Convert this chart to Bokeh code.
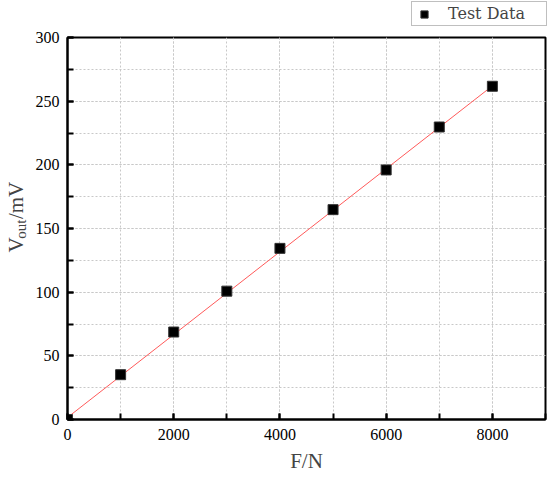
import math
from bokeh.plotting import figure
from bokeh.layouts import column, row
from bokeh.models import Range1d, SingleIntervalTicker, Legend, LegendItem, Label
from bokeh.embed import file_html
from bokeh.resources import INLINE

# Data
force_n = [0, 1000, 2000, 3000, 4000, 5000, 6000, 7000, 8000]
vout_mv = [0, 35.2, 68.7, 100.8, 134.4, 164.8, 196.0, 229.7, 261.7]
fit_x = [0, 8000]
fit_y = [1.6, 262.0]
series_name = "Test Data"

FONT = "Liberation Serif"

# ---------- main chart ----------
p = figure(width=516, height=448, output_backend="svg", toolbar_location=None,
           x_range=Range1d(0, 9000), y_range=Range1d(0, 300),
           min_border_left=33, min_border_right=3, min_border_top=10, min_border_bottom=54)

p.outline_line_color = "black"
p.outline_line_width = 2

fit = p.line(fit_x, fit_y, line_color="#ff5a5a", line_width=1)
pts = p.scatter(force_n, vout_mv, marker="square", size=10, fill_color="black", line_color="#333333")

p.xaxis.ticker = SingleIntervalTicker(interval=2000, num_minor_ticks=2)
p.yaxis.ticker = SingleIntervalTicker(interval=50, num_minor_ticks=2)

for ax in (p.xaxis, p.yaxis):
    ax.axis_line_width = 2
    ax.axis_line_color = "black"
    ax.major_tick_in = 6
    ax.major_tick_out = 0
    ax.minor_tick_in = 6
    ax.minor_tick_out = 0
    ax.major_tick_line_width = 2
    ax.minor_tick_line_width = 2
    ax.major_label_text_font = FONT
    ax.major_label_text_font_size = "16px"
    ax.major_label_text_color = "black"
    ax.axis_label_text_font = FONT
    ax.axis_label_text_font_size = "21px"
    ax.axis_label_text_font_style = "normal"

p.xaxis.axis_label = "F/N"
p.xaxis.major_label_standoff = 9
p.xaxis.axis_label_standoff = 6
p.yaxis.major_label_standoff = 8

for g in (p.xgrid, p.ygrid):
    g.grid_line_color = "#c8c8c8"
    g.grid_line_dash = "2 2"
    g.grid_line_width = 1
    g.minor_grid_line_color = "#c8c8c8"
    g.minor_grid_line_dash = "2 2"
    g.minor_grid_line_width = 1

# ---------- y-axis title strip (with subscript) ----------
ylab = figure(width=32, height=448, output_backend="svg", toolbar_location=None,
              x_range=Range1d(0, 32), y_range=Range1d(0, 448),
              x_axis_location=None, y_axis_location=None,
              min_border_left=0, min_border_right=0, min_border_top=0, min_border_bottom=0)
ylab.outline_line_color = None
ylab.xgrid.visible = False
ylab.ygrid.visible = False
half = math.pi / 2
ylab.add_layout(Label(x=15, y=196, text="V", angle=half, text_font=FONT,
                      text_font_size="21px", text_align="left", text_baseline="alphabetic"))
ylab.add_layout(Label(x=20, y=212, text="out", angle=half, text_font=FONT,
                      text_font_size="15px", text_align="left", text_baseline="alphabetic"))
ylab.add_layout(Label(x=15, y=235, text="/mV", angle=half, text_font=FONT,
                      text_font_size="21px", text_align="left", text_baseline="alphabetic"))

# ---------- legend strip ----------
top = figure(width=548, height=27, output_backend="svg", toolbar_location=None,
             x_range=Range1d(0, 548), y_range=Range1d(0, 27),
             x_axis_location=None, y_axis_location=None,
             min_border_left=0, min_border_right=0, min_border_top=0, min_border_bottom=0)
top.outline_line_color = None
top.xgrid.visible = False
top.ygrid.visible = False
key = top.scatter(x=[float("nan")], y=[float("nan")], marker="square", size=10,
                  fill_color="black", line_color="#333333")
legend = Legend(items=[LegendItem(label=series_name, renderers=[key])],
                location=(411, 1), border_line_color="#808080", border_line_width=1,
                label_text_font="DejaVu Serif", label_text_font_size="16px",
                padding=2, margin=0, glyph_width=20, glyph_height=18, label_height=18,
                label_standoff=14, label_width=96, background_fill_alpha=1)
top.add_layout(legend)

layout = column(top, row(ylab, p))

open("out.html", "w").write(file_html(layout, INLINE))
